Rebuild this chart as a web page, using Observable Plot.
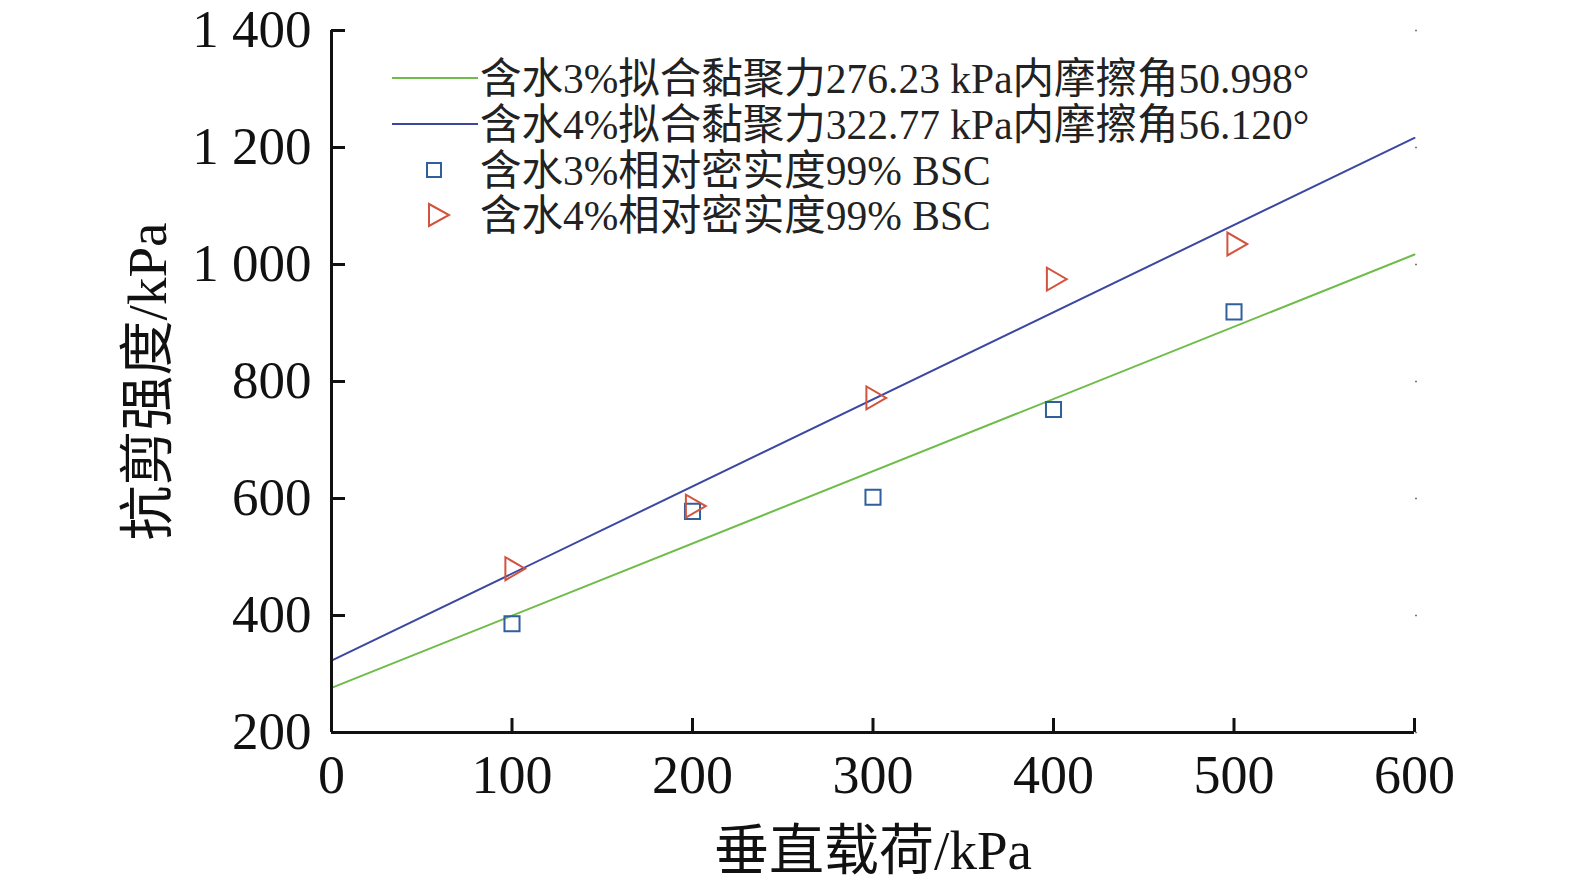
<!DOCTYPE html>
<html><head><meta charset="utf-8">
<script src="https://cdn.jsdelivr.net/npm/d3@7"></script>
<script src="https://cdn.jsdelivr.net/npm/@observablehq/plot@0.6"></script>
<style>
html,body{margin:0;padding:0;background:#fff;overflow:hidden;}
#wrap{position:relative;width:1575px;height:883px;}
#wrap svg{max-width:none !important;}
#legend{position:absolute;left:0;top:0;}
</style>
</head><body><div id="wrap"></div>
<script>
const FONT = "'Liberation Serif','Times New Roman','Noto Sans CJK SC',serif";
// data
const loads = [100, 200, 300, 400, 500];
const strength3 = [386, 578, 602, 752, 919];
const strength4 = [480, 587, 772, 975, 1035];
const cohesion = [276.23, 322.77];
const frictionDeg = [50.998, 56.120];
const lineRange = [0, 600];
const xTicks = [0, 100, 200, 300, 400, 500, 600];
const yTicks = [200, 400, 600, 800, 1000, 1200, 1400];
const legendLabels = [
  "含水3%拟合黏聚力276.23 kPa内摩擦角50.998°",
  "含水4%拟合黏聚力322.77 kPa内摩擦角56.120°",
  "含水3%相对密实度99% BSC",
  "含水4%相对密实度99% BSC"
];
const green = "#6dbd48", blue = "#3b47a0", sqColor = "#2f5f9c", triColor = "#d2543d";

const pts3 = loads.map((x, i) => ({x, y: strength3[i]}));
const pts4 = loads.map((x, i) => ({x, y: strength4[i]}));
const fit = (k) => lineRange.map(x => ({x, y: cohesion[k] + x * Math.tan(frictionDeg[k] * Math.PI / 180)}));

const fmt = d => d >= 1000 ? d3.format(",")(d).replace(",", " ") : String(d);

const chart = Plot.plot({
  width: 1575, height: 883,
  marginLeft: 331, marginRight: 161, marginTop: 30, marginBottom: 151,
  style: {fontFamily: FONT, background: "#fff", color: "#111", overflow: "visible"},
  x: {domain: [0, 600]},
  y: {domain: [200, 1400]},
  marks: [
    Plot.line(fit(0), {x: "x", y: "y", stroke: green, strokeWidth: 2}),
    Plot.line(fit(1), {x: "x", y: "y", stroke: blue, strokeWidth: 2}),
    Plot.dot(pts3, {x: "x", y: "y", symbol: "square", r: 8.5, stroke: sqColor, strokeWidth: 2, fill: "none"}),
    Plot.dot(pts4, {x: "x", y: "y", symbol: "triangle", r: 8.5, rotate: 90, stroke: triColor, strokeWidth: 2, fill: "none"}),
    // inward ticks
    Plot.axisY(yTicks, {anchor: "left", tickSize: -14, strokeWidth: 3, text: null, label: null, stroke: "#111"}),
    Plot.axisX(xTicks, {anchor: "bottom", tickSize: -14, strokeWidth: 3, text: null, label: null, stroke: "#111"}),
    Plot.axisY(yTicks, {anchor: "right", tickSize: 2, strokeWidth: 1.5, text: null, label: null, stroke: "#777"}),
    // labels
    Plot.axisY(yTicks, {anchor: "left", tickSize: 0, tickPadding: 20, tickFormat: fmt, fontSize: 53, fill: "#111",
      label: "抗剪强度/kPa", labelAnchor: "center", labelArrow: "none", labelOffset: 205}),
    Plot.axisX(xTicks, {anchor: "bottom", tickSize: 0, tickPadding: 22, fontSize: 54, fill: "#111",
      label: "垂直载荷/kPa", labelAnchor: "center", labelArrow: "none", labelOffset: 136}),
    Plot.ruleX([0], {stroke: "#111", strokeWidth: 3}),
    Plot.ruleY([200], {stroke: "#111", strokeWidth: 3})
  ]
});
// enlarge axis titles
d3.select(chart).selectAll("[aria-label='y-axis label'] text, [aria-label='x-axis label'] text")
  .attr("font-size", 55).attr("fill", "#111");
document.getElementById("wrap").appendChild(chart);

// legend overlay
const lg = d3.select("#wrap").append("svg").attr("id", "legend")
  .attr("width", 1575).attr("height", 883).style("font-family", FONT);
const rowsY = [78, 124, 170, 215];
lg.append("line").attr("x1", 392).attr("x2", 478).attr("y1", rowsY[0]).attr("y2", rowsY[0]).attr("stroke", green).attr("stroke-width", 2);
lg.append("line").attr("x1", 392).attr("x2", 478).attr("y1", rowsY[1]).attr("y2", rowsY[1]).attr("stroke", blue).attr("stroke-width", 2);
lg.append("rect").attr("x", 427).attr("y", rowsY[2] - 7).attr("width", 14).attr("height", 14).attr("fill", "none").attr("stroke", sqColor).attr("stroke-width", 2);
lg.append("path").attr("d", `M429,${rowsY[3]-11} L449,${rowsY[3]} L429,${rowsY[3]+11} Z`).attr("fill", "none").attr("stroke", triColor).attr("stroke-width", 2);
legendLabels.forEach((t, i) => {
  lg.append("text").attr("x", 480).attr("y", rowsY[i]).attr("dy", "0.35em")
    .attr("font-size", 41.5).attr("fill", "#222").text(t);
});
</script></body></html>
